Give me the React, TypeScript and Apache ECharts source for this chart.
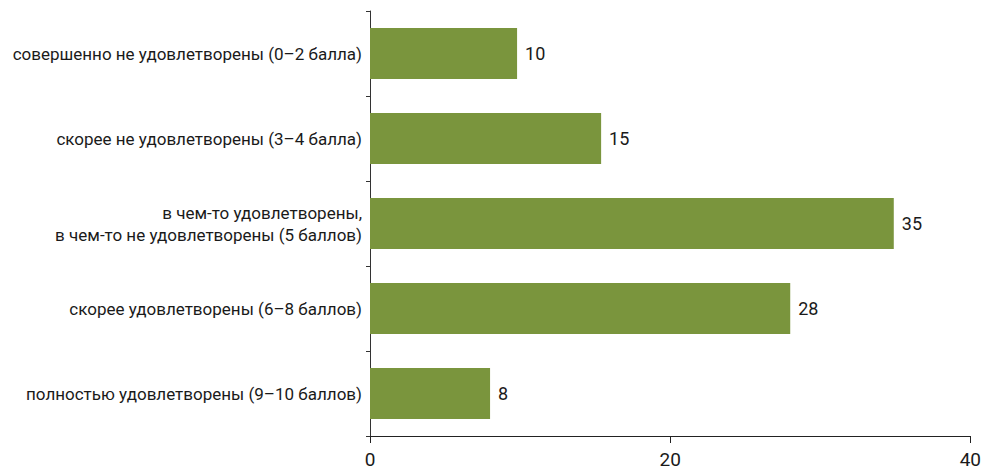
import React, { useEffect, useRef } from "react";
import * as echarts from "echarts";

const categories = [
  "совершенно не удовлетворены (0–2 балла)",
  "скорее не удовлетворены (3–4 балла)",
  "в чем-то удовлетворены,\nв чем-то не удовлетворены (5 баллов)",
  "скорее удовлетворены (6–8 баллов)",
  "полностью удовлетворены (9–10 баллов)",
];
const values = [9.8, 15.4, 34.9, 28.0, 8.0];
const xTicks = [0, 20, 40];

const FONT = "Roboto, 'Noto Sans', sans-serif";

export default function App() {
  const ref = useRef<HTMLDivElement>(null);
  useEffect(() => {
    document.body.style.margin = "0";
    const chart = echarts.init(ref.current!, null, { renderer: "svg" });
    chart.setOption({
      animation: false,
      backgroundColor: "#ffffff",
      grid: { left: 370, right: 13, top: 11, bottom: 39, containLabel: false },
      xAxis: {
        type: "value",
        min: xTicks[0],
        max: xTicks[xTicks.length - 1],
        interval: xTicks[1] - xTicks[0],
        splitLine: { show: false },
        axisLine: { show: true, lineStyle: { color: "#222", width: 1 } },
        axisTick: { show: true, length: 7, lineStyle: { color: "#222" } },
        axisLabel: {
          margin: 14,
          fontSize: 19,
          color: "#1a1a1a",
          fontFamily: FONT,
        },
      },
      yAxis: {
        type: "category",
        inverse: true,
        data: categories,
        axisLine: { show: true, lineStyle: { color: "#333", width: 1 } },
        axisTick: { show: true, length: 4, alignWithLabel: false, lineStyle: { color: "#333" } },
        axisLabel: {
          margin: 8,
          fontSize: 17,
          lineHeight: 22,
          color: "#1a1a1a",
          fontFamily: FONT,
          align: "right",
        },
      },
      series: [
        {
          type: "bar",
          data: values,
          barCategoryGap: "40%",
          itemStyle: { color: "#7a953d" },
          label: {
            show: true,
            position: "right",
            distance: 8,
            fontSize: 18,
            color: "#1a1a1a",
            fontFamily: FONT,
            formatter: (p: any) => String(Math.round(p.value)),
          },
        },
      ],
    });
    return () => chart.dispose();
  }, []);
  return <div ref={ref} style={{ width: 984, height: 475 }} />;
}
